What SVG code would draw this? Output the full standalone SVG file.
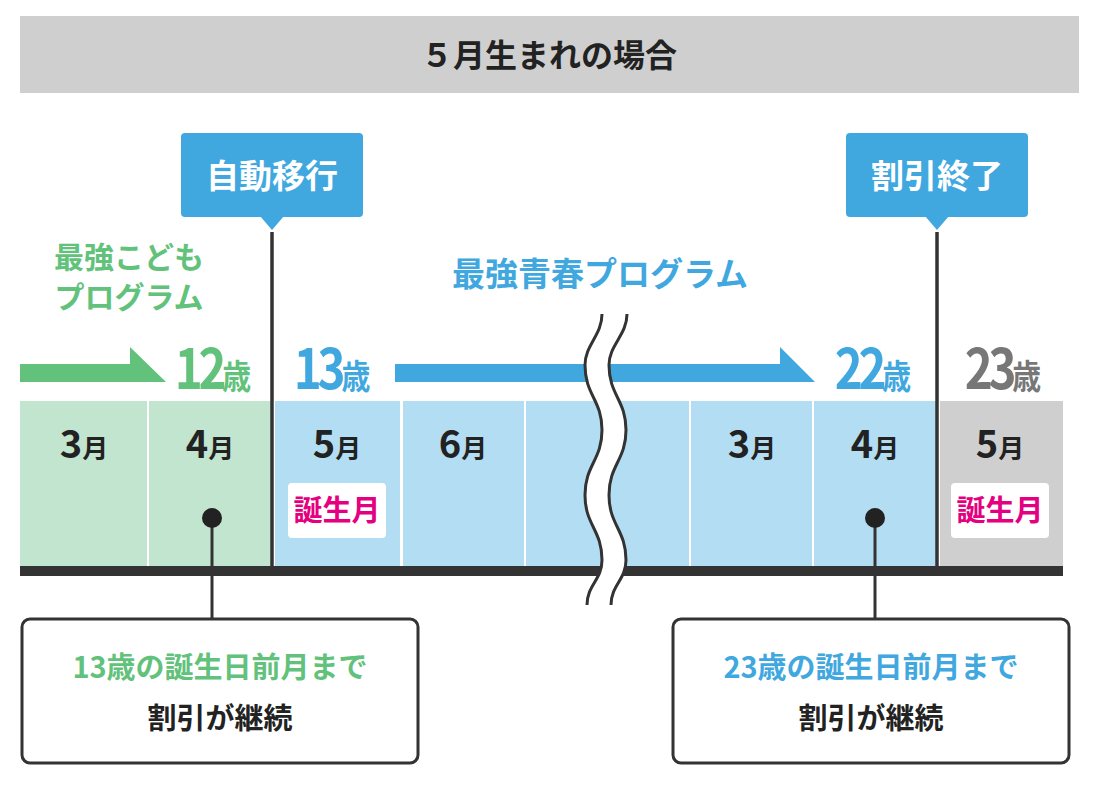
<svg xmlns="http://www.w3.org/2000/svg" width="1100" height="786" viewBox="0 0 1100 786">
<style>
text{font-family:"Noto Sans CJK JP","Noto Sans",sans-serif;font-weight:bold;text-anchor:middle}
.g{fill:#62c27b}.b{fill:#41a8df}.gr{fill:#777}
.vl{stroke:#333;stroke-width:3.5}
.box{fill:#fff;stroke:#333;stroke-width:3}
.pk{fill:#e4007f}
</style>
<g id="title"><rect x="20" y="16" width="1059" height="77" fill="#cfcfcf"/><text x="549" y="67" font-size="32" fill="#222">５月生まれの場合</text></g>
<g id="cells">
<rect x="20" y="401" width="127" height="165" fill="#c2e5cf"/>
<rect x="149" y="401" width="123" height="165" fill="#c2e5cf"/>
<rect x="275" y="401" width="125" height="165" fill="#b3ddf2"/>
<rect x="403" y="401" width="121" height="165" fill="#b3ddf2"/>
<rect x="526" y="401" width="163" height="165" fill="#b3ddf2"/>
<rect x="691" y="401" width="121" height="165" fill="#b3ddf2"/>
<rect x="814" y="401" width="123" height="165" fill="#b3ddf2"/>
<rect x="940" y="401" width="123" height="165" fill="#cfcfcf"/>
<rect x="20" y="566" width="1043" height="10" fill="#333"/>
</g>
<g id="months" fill="#222">
<text font-size="38" x="84" y="458">3<tspan font-size="26">月</tspan></text>
<text font-size="38" x="210" y="458">4<tspan font-size="26">月</tspan></text>
<text font-size="38" x="337" y="458">5<tspan font-size="26">月</tspan></text>
<text font-size="38" x="463" y="458">6<tspan font-size="26">月</tspan></text>
<text font-size="38" x="752" y="458">3<tspan font-size="26">月</tspan></text>
<text font-size="38" x="875" y="458">4<tspan font-size="26">月</tspan></text>
<text font-size="38" x="1000" y="458">5<tspan font-size="26">月</tspan></text>
</g>
<g id="bday1"><rect x="288" y="483" width="98" height="55" rx="4" fill="#fff"/><text class="pk" font-size="29" x="337" y="521">誕生月</text></g>
<g id="bday2"><rect x="951" y="483" width="98" height="55" rx="4" fill="#fff"/><text class="pk" font-size="29" x="1000" y="521">誕生月</text></g>
<g id="connectors">
<line class="vl" x1="272" y1="232" x2="272" y2="566"/>
<line class="vl" x1="937" y1="232" x2="937" y2="566"/>
<polygon points="20,364 130,364 130,347 166,382 20,382" fill="#62c27b"/>
<polygon points="395,364 780,364 780,347 815,382 395,382" fill="#41a8df"/>
<line x1="212" y1="518" x2="212" y2="620" stroke="#333" stroke-width="3"/>
<circle cx="212" cy="518" r="10" fill="#222"/>
<line x1="875" y1="518" x2="875" y2="620" stroke="#333" stroke-width="3"/>
<circle cx="875" cy="518" r="10" fill="#222"/>
</g>
<g id="wave">
<path d="M602,314 C602,335 585,345 585,365 C585,395 602,400 602,430 C602,460 585,465 585,495 C585,525 602,530 602,560 C602,580 587,585 587,605 L611,605 C611,585 626,580 626,560 C626,530 609,525 609,495 C609,465 626,460 626,430 C626,400 609,395 609,365 C609,345 627,335 627,314 Z" fill="#fff"/>
<path d="M602,314 C602,335 585,345 585,365 C585,395 602,400 602,430 C602,460 585,465 585,495 C585,525 602,530 602,560 C602,580 587,585 587,605" fill="none" stroke="#333" stroke-width="3"/>
<path d="M627,314 C627,335 609,345 609,365 C609,395 626,400 626,430 C626,460 609,465 609,495 C609,525 626,530 626,560 C626,580 611,585 611,605" fill="none" stroke="#333" stroke-width="3"/>
</g>
<g id="ages">
<text class="g" font-size="56" letter-spacing="-5" x="213" y="389" transform="translate(213 0) scale(0.85 1) translate(-213 0)">12<tspan font-size="34" letter-spacing="0">歳</tspan></text>
<text class="b" font-size="56" letter-spacing="-5" x="332" y="389" transform="translate(332 0) scale(0.85 1) translate(-332 0)">13<tspan font-size="34" letter-spacing="0">歳</tspan></text>
<text class="b" font-size="56" letter-spacing="-5" x="873" y="389" transform="translate(873 0) scale(0.85 1) translate(-873 0)">22<tspan font-size="34" letter-spacing="0">歳</tspan></text>
<text class="gr" font-size="56" letter-spacing="-5" x="1003" y="389" transform="translate(1003 0) scale(0.85 1) translate(-1003 0)">23<tspan font-size="34" letter-spacing="0">歳</tspan></text>
</g>
<g id="progs">
<text class="g" font-size="30" x="129" y="268">最強こども</text>
<text class="g" font-size="30" x="129" y="308">プログラム</text>
<text class="b" font-size="33" x="600" y="286">最強青春プログラム</text>
</g>
<g id="callout1"><rect x="181" y="133" width="182" height="84" rx="4" fill="#41a8df"/><polygon points="260,216 284,216 272,230" fill="#41a8df"/><text x="272" y="188" font-size="33" fill="#fff">自動移行</text></g>
<g id="callout2"><rect x="846" y="133" width="182" height="84" rx="4" fill="#41a8df"/><polygon points="925,216 949,216 937,230" fill="#41a8df"/><text x="937" y="188" font-size="33" fill="#fff">割引終了</text></g>
<g id="note1"><rect class="box" x="22" y="619" width="396" height="144" rx="8"/><text class="g" font-size="29" x="220" y="678">13歳の誕生日前月まで</text><text x="220" y="729" font-size="29" fill="#222" font-weight="500">割引が継続</text></g>
<g id="note2"><rect class="box" x="673" y="619" width="396" height="144" rx="8"/><text class="b" font-size="29" x="871" y="678">23歳の誕生日前月まで</text><text x="871" y="729" font-size="29" fill="#222" font-weight="500">割引が継続</text></g>
</svg>
